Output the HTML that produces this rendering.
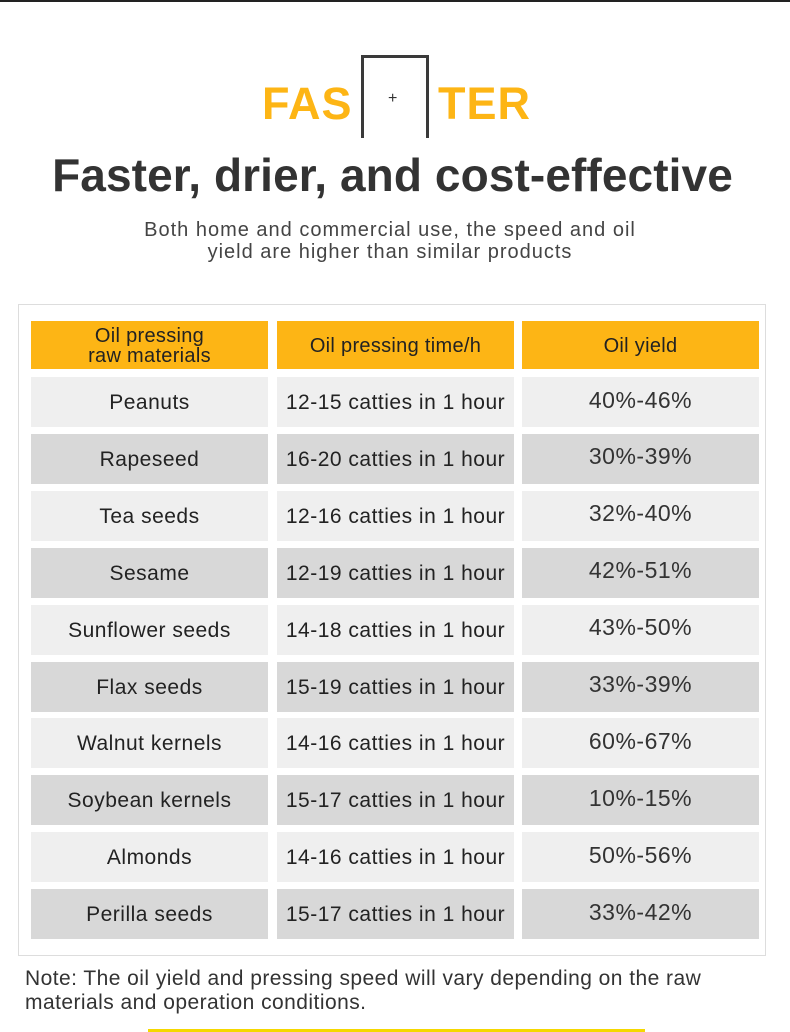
<!DOCTYPE html>
<html><head><style>
body{margin:0;width:790px;height:1032px;background:#fff;position:relative;overflow:hidden;font-family:"Liberation Sans","DejaVu Sans",sans-serif;}
.a{position:absolute}
.fas{position:absolute;top:78px;font-size:45px;font-weight:bold;color:#fdb515;letter-spacing:1px}
.cell{position:absolute;width:237px;height:50px;display:flex;align-items:center;justify-content:center;font-size:21px;color:#222;text-align:center;letter-spacing:0.5px;padding-top:2px;box-sizing:border-box}
.h{background:#fdb515;height:48px;line-height:20px;font-size:20px;letter-spacing:0.3px}
.l{background:#efefef}.d{background:#d8d8d8}
.c3{font-size:23px;color:#333}
</style></head><body>
<div class="a" style="left:0;top:0;width:790px;height:2px;background:#222"></div>
<div class="fas" style="left:262px">FAS</div>
<div class="fas" style="left:438px">TER</div>
<div class="a" style="left:361px;top:55px;width:62px;height:80px;border:3px solid #3a3a3a;border-bottom:none"></div>
<div class="a" style="left:388px;top:90px;font-size:16px;color:#333">+</div>
<div class="a" style="left:0;top:148px;width:785px;text-align:center;font-size:46px;font-weight:bold;color:#333;letter-spacing:0.1px">Faster, drier, and cost-effective</div>
<div class="a" style="left:0;top:219px;width:780px;text-align:center;font-size:20px;line-height:22px;color:#444;letter-spacing:1px">Both home and commercial use, the speed and oil<br>yield are higher than similar products</div>
<div class="a" style="left:18px;top:304px;width:746px;height:650px;border:1px solid #ddd"></div>
<div class="cell h" style="left:31px;top:321px">Oil pressing<br>raw materials</div>
<div class="cell h" style="left:277px;top:321px">Oil pressing time/h</div>
<div class="cell h" style="left:522px;top:321px">Oil yield</div>
<div id="rows"></div>
<div class="a" style="left:25px;top:967px;font-size:21px;line-height:24px;color:#333;letter-spacing:0.45px">Note: The oil yield and pressing speed will vary depending on the raw<br>materials and operation conditions.</div>
<div class="a" style="left:148px;top:1029px;width:497px;height:3px;background:#f5d800"></div>
<script>
var d=[["Peanuts","12-15 catties in 1 hour","40%-46%"],["Rapeseed","16-20 catties in 1 hour","30%-39%"],["Tea seeds","12-16 catties in 1 hour","32%-40%"],["Sesame","12-19 catties in 1 hour","42%-51%"],["Sunflower seeds","14-18 catties in 1 hour","43%-50%"],["Flax seeds","15-19  catties in 1 hour","33%-39%"],["Walnut kernels","14-16 catties in 1 hour","60%-67%"],["Soybean kernels","15-17 catties in 1 hour","10%-15%"],["Almonds","14-16 catties in 1 hour","50%-56%"],["Perilla seeds","15-17 catties in 1 hour","33%-42%"]];
var h="";d.forEach(function(r,i){var t=377+i*56.9,c=i%2?"d":"l";
h+='<div class="cell '+c+'" style="left:31px;top:'+t+'px">'+r[0]+'</div><div class="cell '+c+'" style="left:277px;top:'+t+'px">'+r[1]+'</div><div class="cell '+c+' c3" style="left:522px;top:'+(t)+'px;padding-top:0;padding-bottom:4px">'+r[2]+'</div>';});
document.getElementById("rows").outerHTML=h;
</script>
</body></html>
